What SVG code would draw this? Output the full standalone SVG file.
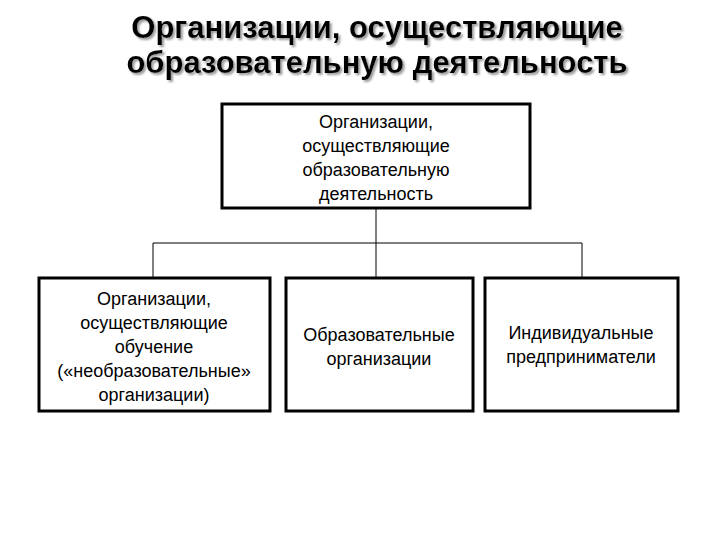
<svg xmlns="http://www.w3.org/2000/svg" width="720" height="540" viewBox="0 0 720 540">
<defs><style>
.t{font-family:"Liberation Sans",Arial,sans-serif;font-weight:bold;font-size:31px;text-anchor:middle}
.b{fill:#fff;stroke:#000;stroke-width:3}
.l{font-family:"Liberation Sans",Arial,sans-serif;font-size:18px;text-anchor:middle;fill:#000}
</style>
<filter id="sh" x="-5%" y="-20%" width="110%" height="150%"><feDropShadow dx="2" dy="2" stdDeviation="0.8" flood-color="#999"/></filter>
</defs>
<rect width="720" height="540" fill="#fff"/>
<g id="title" filter="url(#sh)">
<text class="t" x="377" y="38" fill="#000">Организации, осуществляющие</text>
<text class="t" x="377" y="73" fill="#000">образовательную деятельность</text>
</g>
<g id="connectors" fill="none" stroke="#000" stroke-width="1">
<path d="M376 208V277M153 243H582M153 243V277M582 243V277"/>
</g>
<g id="top"><rect class="b" x="222" y="104" width="308" height="104"/>
<text class="l" x="376" y="128">Организации,</text><text class="l" x="376" y="152">осуществляющие</text><text class="l" x="376" y="176">образовательную</text><text class="l" x="376" y="200">деятельность</text></g>
<g id="left"><rect class="b" x="39" y="278" width="231" height="133"/>
<text class="l" x="154" y="305">Организации,</text><text class="l" x="154" y="329">осуществляющие</text><text class="l" x="154" y="353">обучение</text><text class="l" x="154" y="377">(«необразовательные»</text><text class="l" x="154" y="401">организации)</text></g>
<g id="mid"><rect class="b" x="286" y="278" width="187" height="133"/>
<text class="l" x="379" y="341">Образовательные</text><text class="l" x="379" y="365">организации</text></g>
<g id="right"><rect class="b" x="485" y="278" width="193" height="133"/>
<text class="l" x="581" y="339">Индивидуальные</text><text class="l" x="581" y="363">предприниматели</text></g>
</svg>
